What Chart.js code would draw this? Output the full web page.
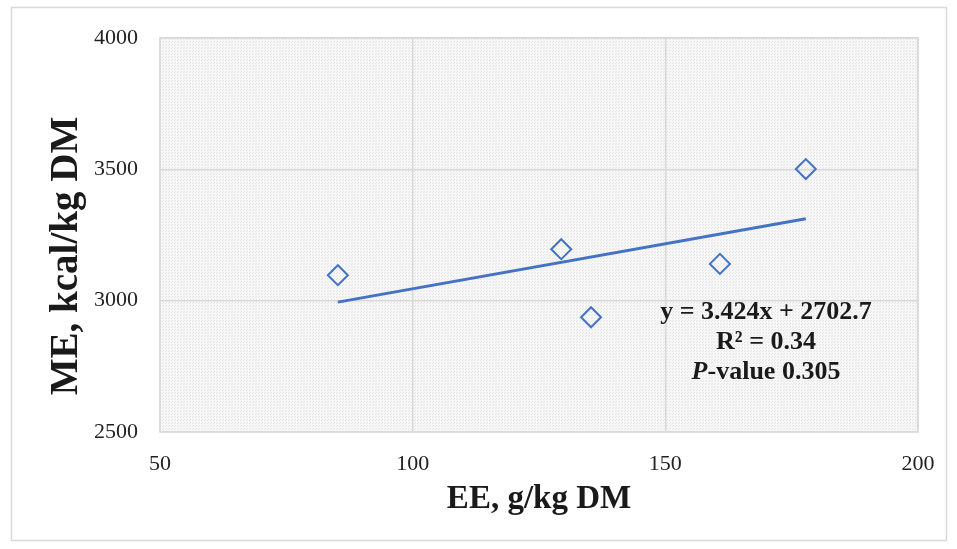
<!DOCTYPE html>
<html>
<head>
<meta charset="utf-8">
<script src="https://cdn.jsdelivr.net/npm/chart.js@4"></script>
<style>
  html, body { margin: 0; padding: 0; background: #fff; }
  #wrap { width: 957px; height: 549px; position: relative; }
</style>
</head>
<body>
<div id="wrap"><canvas id="chart" width="957" height="549"></canvas></div>
<script>
// EE (g/kg DM) vs ME (kcal/kg DM)
const eeValues = [85.2, 129.4, 135.3, 160.8, 177.8];
const meValues = [3097, 3196, 2937, 3140, 3501];
const xTicks = [50, 100, 150, 200];
const yTicks = [2500, 3000, 3500, 4000];
const slope = 3.424, intercept = 2702.7;
const fitLines = ["y = 3.424x + 2702.7", "R² = 0.34", "P-value 0.305"];
const yTitle = "ME, kcal/kg DM";

const xMin = Math.min(...eeValues), xMax = Math.max(...eeValues);
const trend = [
  { x: xMin, y: slope * xMin + intercept },
  { x: xMax, y: slope * xMax + intercept }
];

function dotPattern(ctx) {
  const c = document.createElement("canvas");
  c.width = 3; c.height = 3;
  const g = c.getContext("2d");
  g.fillStyle = "#f7f7f7";
  g.fillRect(0, 0, 3, 3);
  g.fillStyle = "#e4e4e4";
  g.fillRect(0, 0, 1, 1);
  g.fillRect(1, 2, 1, 1);
  return ctx.createPattern(c, "repeat");
}

const serif = "'Liberation Serif', 'Times New Roman', serif";

const frame = {
  id: "frame",
  beforeDraw(chart) {
    const { ctx, chartArea: a } = chart;
    ctx.save();
    ctx.fillStyle = "#fff";
    ctx.fillRect(0, 0, chart.width, chart.height);
    ctx.strokeStyle = "#d9d9d9";
    ctx.lineWidth = 1.5;
    ctx.strokeRect(11.5, 7.5, 935, 533);
    ctx.fillStyle = dotPattern(ctx);
    ctx.fillRect(a.left, a.top, a.right - a.left, a.bottom - a.top);
    ctx.restore();
  },
  afterDraw(chart) {
    const { ctx, chartArea: a } = chart;
    ctx.save();
    ctx.strokeStyle = "#d9d9d9";
    ctx.lineWidth = 1.5;
    ctx.strokeRect(a.left, a.top, a.right - a.left, a.bottom - a.top);

    // y axis title (sits a bit below the axis centre, as in the original)
    ctx.fillStyle = "#1a1a1a";
    ctx.save();
    ctx.translate(67, 256);
    ctx.rotate(-Math.PI / 2);
    ctx.textAlign = "center";
    ctx.textBaseline = "middle";
    ctx.font = "bold 39px " + serif;
    ctx.fillText(yTitle, 0, 0);
    ctx.restore();

    // trendline equation
    ctx.textAlign = "center";
    ctx.textBaseline = "middle";
    const cx = 766, fs = 26;
    ctx.font = `bold ${fs}px ${serif}`;
    ctx.fillText(fitLines[0], cx, 312);
    ctx.fillText(fitLines[1], cx, 342);
    // P-value: italic P
    const p1 = "P", p2 = fitLines[2].slice(1);
    ctx.font = `italic bold ${fs}px ${serif}`;
    const w1 = ctx.measureText(p1).width;
    ctx.font = `bold ${fs}px ${serif}`;
    const w2 = ctx.measureText(p2).width;
    const sx = cx - (w1 + w2) / 2;
    ctx.textAlign = "left";
    ctx.font = `italic bold ${fs}px ${serif}`;
    ctx.fillText(p1, sx, 372);
    ctx.font = `bold ${fs}px ${serif}`;
    ctx.fillText(p2, sx + w1, 372);
    ctx.restore();
  }
};

new Chart(document.getElementById("chart"), {
  type: "scatter",
  data: {
    datasets: [
      {
        label: "ME",
        data: eeValues.map((x, i) => ({ x, y: meValues[i] })),
        pointStyle: "rectRot",
        pointRadius: 10,
        pointHoverRadius: 10,
        pointBorderWidth: 2,
        pointBorderColor: "#4472c4",
        pointBackgroundColor: "rgba(255,255,255,0)",
        showLine: false
      },
      {
        label: "Linear",
        data: trend,
        showLine: true,
        borderColor: "#4472c4",
        borderWidth: 3,
        pointRadius: 0
      }
    ]
  },
  plugins: [frame],
  options: {
    responsive: false,
    animation: false,
    layout: { padding: { left: 43, right: 39, top: 38, bottom: 30 } },
    plugins: { legend: { display: false }, tooltip: { enabled: false } },
    scales: {
      x: {
        type: "linear",
        min: 50, max: 200,
        afterBuildTicks: s => { s.ticks = xTicks.map(v => ({ value: v })); },
        afterFit: s => { s.height = 87; },
        grid: { color: "#d9d9d9", lineWidth: 1.5, drawTicks: false },
        border: { display: false },
        ticks: {
          color: "#222",
          padding: 19,
          maxRotation: 0,
          callback: v => String(v),
          font: { family: serif, size: 22 }
        },
        title: {
          display: true,
          text: "EE, g/kg DM",
          color: "#1a1a1a",
          padding: { top: 0, bottom: 0 },
          font: { family: serif, size: 33, weight: "bold" }
        }
      },
      y: {
        type: "linear",
        min: 2500, max: 4000,
        afterBuildTicks: s => { s.ticks = yTicks.map(v => ({ value: v })); },
        afterFit: s => { s.width = 117; },
        grid: { color: "#d9d9d9", lineWidth: 1.5, drawTicks: false },
        border: { display: false },
        ticks: {
          color: "#222",
          padding: 22,
          callback: v => String(v),
          font: { family: serif, size: 22 }
        }
      }
    }
  }
});
</script>
</body>
</html>
